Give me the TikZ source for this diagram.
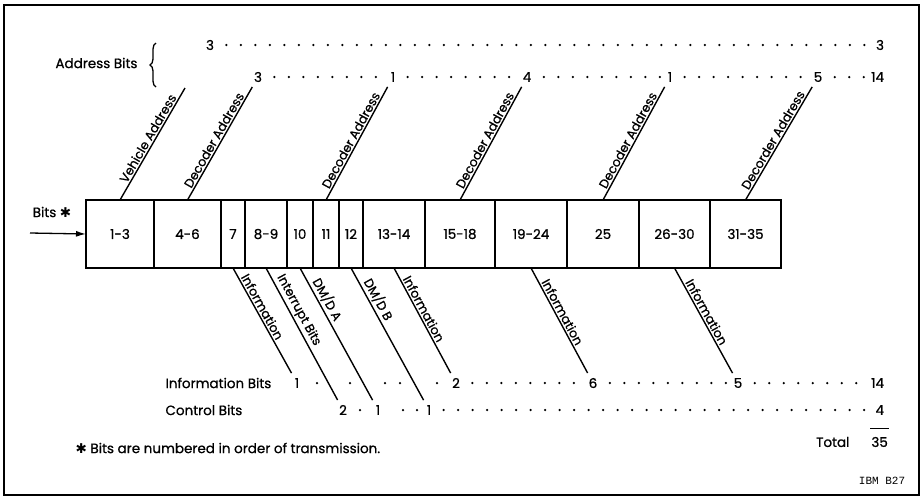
\documentclass[tikz,border=0pt]{standalone}
\usepackage{fontspec}
\setmainfont{Poppins}[UprightFeatures={FakeBold=0.8}]
\setmonofont{Liberation Mono}
\newfontfamily\symbole{DejaVu Sans}
\usetikzlibrary{arrows.meta,decorations.pathreplacing}

\begin{document}
\begin{tikzpicture}[x=1pt,y=-1pt,font=\fontsize{13.5}{15}\selectfont]
% Styles
\tikzstyle{fleche}=[-{Latex[length=10pt,width=6pt]},line width=1.3pt]
\tikzstyle{case}=[draw,line width=1.2pt,inner sep=0pt,outer sep=0pt,minimum height=68pt]
\tikzstyle{nombre}=[inner sep=1pt,outer sep=4pt]
\tikzstyle{trait}=[line width=1.4pt]
\tikzstyle{etiquette}=[sloped,above,inner sep=1.5pt,font=\fontsize{12.5}{14}\selectfont]
\tikzstyle{pointilles}=[line width=2.5pt,line cap=round,dash pattern=on 0pt off 14.5pt,dash phase=7pt]
% Dimensions
\def\NiveauCases{234}
\def\NiveauA{45}
\def\NiveauB{77}
\def\NiveauC{383}
\def\NiveauD{410}
\def\Droite{889}
% Cadre
\useasboundingbox (0,0) rectangle (923,501);
\draw[line width=1.8pt] (4,5) rectangle (919,495);
% Cases
\node[case,minimum width=68pt] (C1) at (120,\NiveauCases) {1-3};
\node[case,minimum width=67pt] (C4) at (187.5,\NiveauCases) {4-6};
\node[case,minimum width=24pt] (C7) at (233,\NiveauCases) {7};
\node[case,minimum width=42pt] (C8) at (266,\NiveauCases) {8-9};
\node[case,minimum width=26pt] (C10) at (300,\NiveauCases) {10};
\node[case,minimum width=26pt] (C11) at (326,\NiveauCases) {11};
\node[case,minimum width=24pt] (C12) at (351,\NiveauCases) {12};
\node[case,minimum width=62pt] (C13) at (394,\NiveauCases) {13-14};
\node[case,minimum width=70pt] (C15) at (460,\NiveauCases) {15-18};
\node[case,minimum width=72pt] (C19) at (531,\NiveauCases) {19-24};
\node[case,minimum width=72pt] (C25) at (603,\NiveauCases) {25};
\node[case,minimum width=71pt] (C26) at (674.5,\NiveauCases) {26-30};
\node[case,minimum width=71pt] (C31) at (745.5,\NiveauCases) {31-35};
% Entree
\coordinate (entree) at (30,233);
\node (bits) at (52,212) {Bits {\symbole ✱}};
\draw[fleche] (entree)--(C1.west);
% Bits d'adresse
\node[anchor=east] (adresse) at (141,63) {Address Bits};
\draw[line width=1.3pt,decorate,decoration={brace,amplitude=6pt}] (156,87)--(156,43);
\node[nombre] (a1) at (210,\NiveauA) {3};
\node[nombre,anchor=east] (a2) at (\Droite,\NiveauA) {3};
\node[nombre] (b1) at (258,\NiveauB) {3};
\node[nombre] (b2) at (393,\NiveauB) {1};
\node[nombre] (b3) at (527,\NiveauB) {4};
\node[nombre] (b4) at (670,\NiveauB) {1};
\node[nombre] (b5) at (818,\NiveauB) {5};
\node[nombre,anchor=east] (b6) at (\Droite,\NiveauB) {14};
\draw[pointilles] (a1)--(a2);
\draw[pointilles] (b1)--(b2);
\draw[pointilles] (b2)--(b3);
\draw[pointilles] (b3)--(b4);
\draw[pointilles] (b4)--(b5);
\draw[pointilles] (b5)--(b6);
% Bits d'information et de controle
\node[anchor=west] (info) at (162,\NiveauC) {Information Bits};
\node[anchor=west] (controle) at (162,\NiveauD) {Control Bits};
\node[nombre] (i1) at (297,\NiveauC) {1};
\node[nombre] (i2) at (456,\NiveauC) {2};
\node[nombre] (i3) at (593,\NiveauC) {6};
\node[nombre] (i4) at (738,\NiveauC) {5};
\node[nombre,anchor=east] (i5) at (\Droite,\NiveauC) {14};
\node[nombre] (c1) at (343,\NiveauD) {2};
\node[nombre] (c2) at (378,\NiveauD) {1};
\node[nombre] (c3) at (429,\NiveauD) {1};
\node[nombre,anchor=east] (c4) at (\Droite,\NiveauD) {4};
\foreach \x in {317,350,385,400,437} \fill (\x,\NiveauC) circle (1.25);
\foreach \x in {360,403,417} \fill (\x,\NiveauD) circle (1.25);
\draw[pointilles] (i2)--(i3);
\draw[pointilles] (i3)--(i4);
\draw[pointilles] (i4)--(i5);
\draw[pointilles] (c3)--(c4);
% Arcs du haut
\coordinate (hVA) at (185,88);
\draw[trait] (C1.north)--(hVA) node[etiquette,pos=0.52] {Vehicle Address};
\draw[trait] (C4.north)--(b1) node[etiquette,pos=0.5] {Decoder Address};
\draw[trait] (C11.north)--(b2) node[etiquette,pos=0.5] {Decoder Address};
\draw[trait] (C15.north)--(b3) node[etiquette,pos=0.5] {Decoder Address};
\draw[trait] (C25.north)--(b4) node[etiquette,pos=0.5] {Decoder Address};
\draw[trait] (C31.north)--(b5) node[etiquette,pos=0.5] {Decorder Address};
% Arcs du bas
\draw[trait] (C7.south)--(i1) node[etiquette,pos=0.4] {Information};
\draw[trait] (C8.south)--(c1) node[etiquette,pos=0.35] {Interrupt Bits};
\draw[trait] (C10.south)--(c2) node[etiquette,pos=0.27] {DM/D A};
\draw[trait] (C12.south)--(c3) node[etiquette,pos=0.27] {DM/D B};
\draw[trait] (C13.south)--(i2) node[etiquette,pos=0.42] {Information};
\draw[trait] (C19.south)--(i3) node[etiquette,pos=0.45] {Information};
\draw[trait] (C26.south)--(i4) node[etiquette,pos=0.45] {Information};
% Total et notes
\node[anchor=east] (total) at (853,442) {Total};
\node[anchor=east,inner sep=1pt] (somme) at (\Droite,442) {35};
\draw[trait] ([shift={(0,-7)}]somme.north west)--([shift={(0,-7)}]somme.north east);
\node[anchor=west] (note) at (72,448) {{\symbole ✱} Bits are numbered in order of transmission.};
\node[font=\ttfamily\fontsize{11}{13}\selectfont] (ibm) at (882,481) {IBM B27};
\end{tikzpicture}
\end{document}
